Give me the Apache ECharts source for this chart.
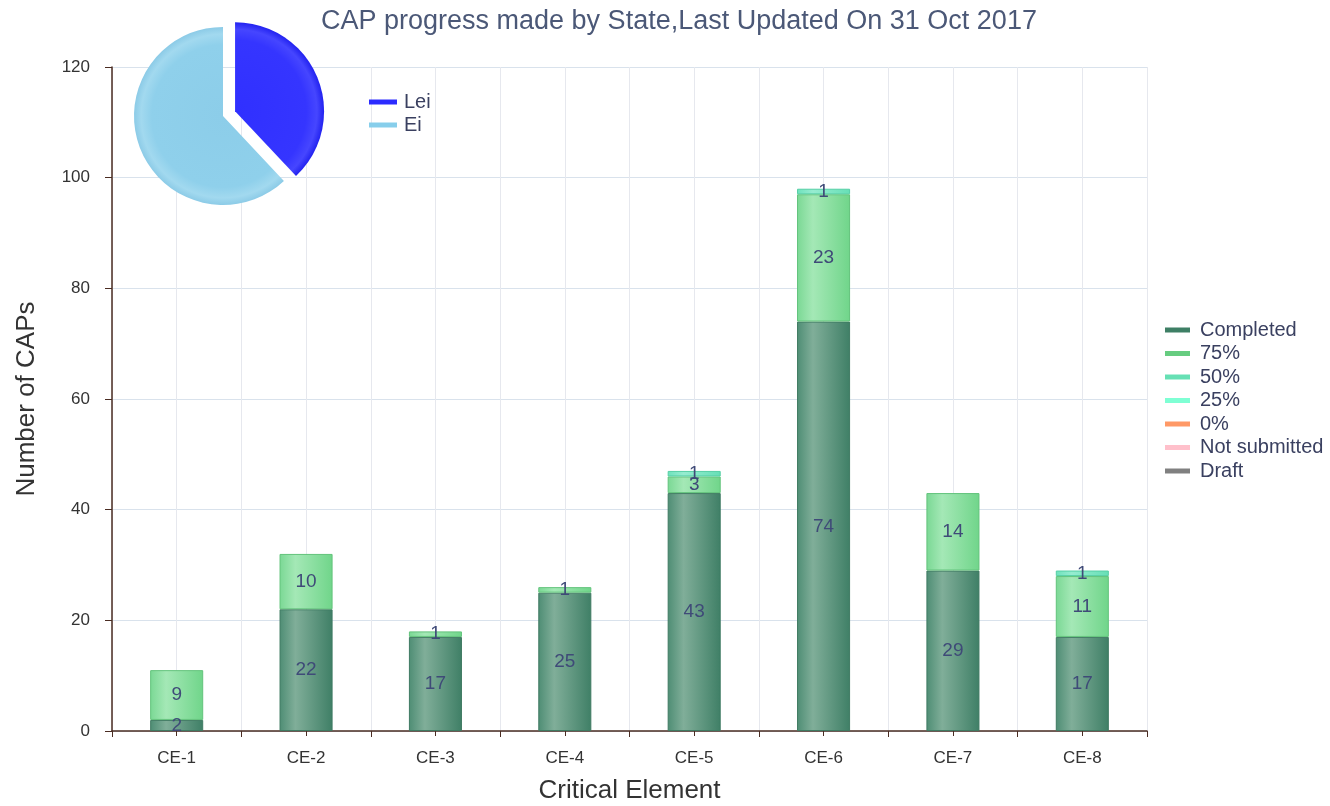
<!DOCTYPE html>
<html>
<head>
<meta charset="utf-8">
<script src="https://cdn.jsdelivr.net/npm/echarts@6/dist/echarts.min.js"></script>
<style>
html,body{margin:0;padding:0;background:#fff;}
#chart{width:1330px;height:806px;}
</style>
</head>
<body>
<div id="chart"></div>
<script>
var categories = ['CE-1','CE-2','CE-3','CE-4','CE-5','CE-6','CE-7','CE-8'];
var completed = [2,22,17,25,43,74,29,17];
var pct75 = [9,10,1,1,3,23,14,11];
var pct50 = [0,0,0,0,1,1,0,1];
var pct25 = [0,0,0,0,0,0,0,0];
var pct0 = [0,0,0,0,0,0,0,0];
var notSubmitted = [0,0,0,0,0,0,0,0];
var draft = [0,0,0,0,0,0,0,0];
var pieNames = ['Lei','Ei'];
var pieValues = [38,62];
var yTicks = [0,20,40,60,80,100,120];

var FONT = '"Liberation Sans", Arial, sans-serif';
var labelColor = '#3f4a78';
var legendText = '#3a4060';

function grad(l, m, r) {
  return new echarts.graphic.LinearGradient(0,0,1,0,[
    {offset:0,color:l},{offset:0.3,color:m},{offset:1,color:r}
  ]);
}
var seriesDefs = [
  {name:'Completed', data:completed, legend:'#3e7f65', fill:grad('#4e8d74','#80ae99','#3f7f66'), border:'#3f7a62'},
  {name:'75%', data:pct75, legend:'#66cc80', fill:grad('#7ad894','#a4e8b6','#70d58a'), border:'#62c37b'},
  {name:'50%', data:pct50, legend:'#66e0b4', fill:grad('#6ee2bc','#96ecd0','#66dfb6'), border:'#55cfa5'},
  {name:'25%', data:pct25, legend:'#7fffd4', fill:'#7fffd4', border:'#7fffd4'},
  {name:'0%', data:pct0, legend:'#ff9966', fill:'#ff9966', border:'#ff9966'},
  {name:'Not submitted', data:notSubmitted, legend:'#ffc0cb', fill:'#ffc0cb', border:'#ffc0cb'},
  {name:'Draft', data:draft, legend:'#808080', fill:'#808080', border:'#808080'}
];

var series = seriesDefs.map(function(d){
  return {
    name:d.name, type:'bar', stack:'caps', barWidth:'41%',
    xAxisIndex:0, yAxisIndex:0,
    color:d.legend,
    data:d.data.map(function(v){return v===0?null:v;}),
    itemStyle:{color:d.fill, borderColor:d.border, borderWidth:1},
    label:{show:true, position:'inside', color:labelColor, fontSize:19, fontFamily:FONT,
      formatter:function(p){return p.value?String(p.value):'';}},
    emphasis:{disabled:true}
  };
});

series.push({
  type:'pie', name:'pie', center:[223,116], radius:89,
  startAngle:90, clockwise:true,
  selectedMode:'single', selectedOffset:13,
  label:{show:false}, labelLine:{show:false},
  emphasis:{disabled:true},
  data:[
    {name:pieNames[0], value:pieValues[0], selected:true,
     itemStyle:{color:new echarts.graphic.RadialGradient(223,116,89,[
       {offset:0,color:'#3030ff'},{offset:0.8,color:'#3535ff'},{offset:0.92,color:'#4646ff'},{offset:1,color:'#2222f0'}],true)}},
    {name:pieNames[1], value:pieValues[1],
     itemStyle:{color:new echarts.graphic.RadialGradient(223,116,89,[
       {offset:0,color:'#8ccde9'},{offset:0.8,color:'#8fd0eb'},{offset:0.92,color:'#a2d9ef'},{offset:1,color:'#8ccbe7'}],true)}}
  ]
});

var chart = echarts.init(document.getElementById('chart'), null, {renderer:'canvas'});
chart.setOption({
  animation:false,
  backgroundColor:'#ffffff',
  color:['#2b2bff','#87ceeb'],
  title:{text:'CAP progress made by State,Last Updated On 31 Oct 2017', left:316, top:3,
    textStyle:{fontSize:27, fontWeight:'normal', color:'#4b5877', fontFamily:FONT}},
  legend:[
    {data:seriesDefs.map(function(d){return {name:d.name, itemStyle:{color:d.legend, borderWidth:0}};}),
     orient:'vertical', left:1165, top:320, padding:0, itemWidth:25, itemHeight:5, itemGap:3.5,
     icon:'rect', textStyle:{fontSize:20, color:legendText, fontFamily:FONT, padding:[0,0,0,5]}, selectedMode:false},
    {data:[{name:'Lei',itemStyle:{color:'#2b2bff'}},{name:'Ei',itemStyle:{color:'#87ceeb'}}],
     orient:'vertical', left:369, top:92, padding:0, itemWidth:28, itemHeight:5, itemGap:3,
     icon:'rect', textStyle:{fontSize:20, color:legendText, fontFamily:FONT, padding:[0,0,0,2]}, selectedMode:false}
  ],
  grid:{left:112, right:183, top:67, bottom:75, containLabel:false, outerBoundsMode:'none'},
  xAxis:[
    {type:'category', data:categories, position:'bottom',
     axisLine:{show:true, lineStyle:{color:'#4a2c22', width:1.5}},
     axisTick:{show:true, length:6, lineStyle:{color:'#4a2c22'}},
     axisLabel:{fontSize:17, color:'#333', margin:19, fontFamily:FONT},
     splitLine:{show:true, lineStyle:{color:'#e6e8ee'}},
     name:'Critical Element', nameLocation:'middle', nameGap:47,
     nameTextStyle:{fontSize:26, color:'#333', fontFamily:FONT}},
    {type:'value', min:0, max:8, interval:0.5, position:'bottom',
     axisLine:{show:false}, axisLabel:{show:false},
     axisTick:{show:true, length:5, lineStyle:{color:'#4a2c22'}},
     splitLine:{show:true, lineStyle:{color:'#e6e8ee'}}}
  ],
  yAxis:{type:'value', min:yTicks[0], max:yTicks[yTicks.length-1], interval:20,
    axisLine:{show:true, lineStyle:{color:'#4a2c22', width:1.5}},
    axisTick:{show:true, length:7, lineStyle:{color:'#4a2c22'}},
    axisLabel:{fontSize:17, color:'#333', margin:22, fontFamily:FONT},
    splitLine:{show:true, lineStyle:{color:'#d9e2ec'}},
    name:'Number of CAPs', nameLocation:'middle', nameGap:72,
    nameTextStyle:{fontSize:26, color:'#333', fontFamily:FONT}},
  series:series
});
</script>
</body>
</html>
